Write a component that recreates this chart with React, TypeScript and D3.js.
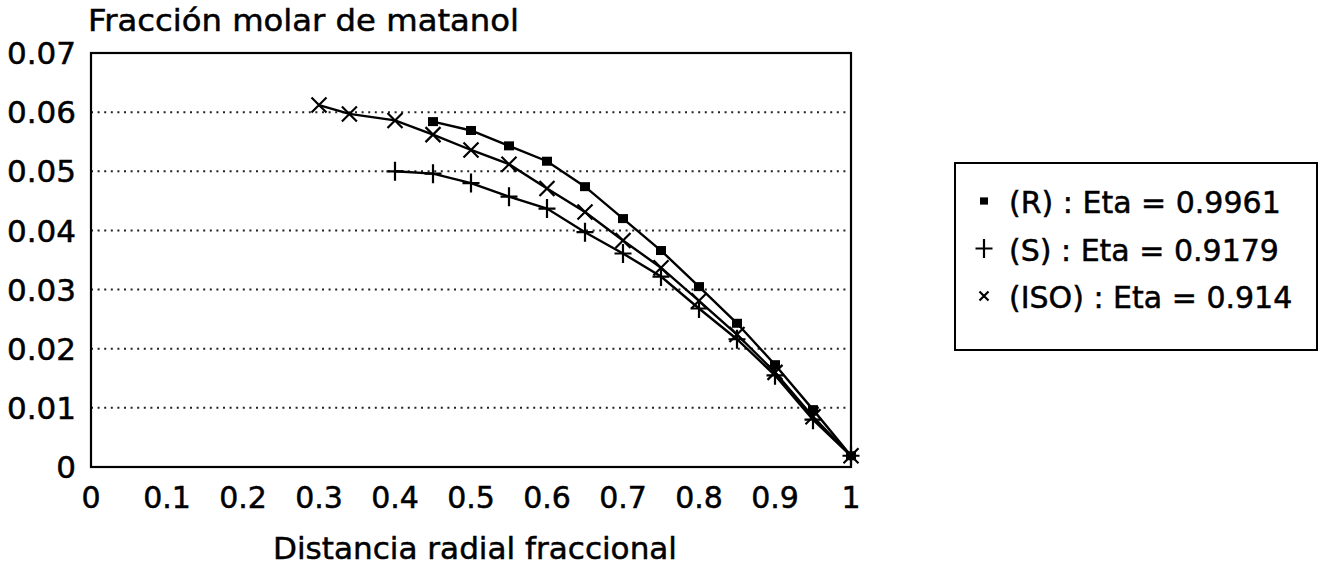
import React from "react";
import * as d3 from "d3";

const xR = [0.45, 0.5, 0.55, 0.6, 0.65, 0.7, 0.75, 0.8, 0.85, 0.9, 0.95, 1.0];
const yR = [0.0584, 0.0569, 0.0543, 0.0517, 0.0474, 0.042, 0.0366, 0.0305, 0.0243, 0.0173, 0.0097, 0.0019];

const xS = [0.4, 0.45, 0.5, 0.55, 0.6, 0.65, 0.7, 0.75, 0.8, 0.85, 0.9, 0.95, 1.0];
const yS = [0.05, 0.0496, 0.048, 0.0457, 0.0437, 0.0397, 0.0361, 0.0322, 0.0268, 0.0216, 0.0155, 0.008, 0.0019];

const xISO = [0.3, 0.34, 0.4, 0.45, 0.5, 0.55, 0.6, 0.65, 0.7, 0.75, 0.8, 0.85, 0.9, 0.95, 1.0];
const yISO = [0.0612, 0.0597, 0.0586, 0.0562, 0.0536, 0.0512, 0.0471, 0.0431, 0.0383, 0.0337, 0.0281, 0.0224, 0.016, 0.0085, 0.0019];

const xTicks = [0, 0.1, 0.2, 0.3, 0.4, 0.5, 0.6, 0.7, 0.8, 0.9, 1];
const xTickLabels = ["0", "0.1", "0.2", "0.3", "0.4", "0.5", "0.6", "0.7", "0.8", "0.9", "1"];
const yTicks = [0, 0.01, 0.02, 0.03, 0.04, 0.05, 0.06, 0.07];
const yTickLabels = ["0", "0.01", "0.02", "0.03", "0.04", "0.05", "0.06", "0.07"];
const gridValues = [0.01, 0.02, 0.03, 0.04, 0.05, 0.06];

const legendLabels = ["(R) : Eta = 0.9961", "(S) : Eta = 0.9179", "(ISO) : Eta = 0.914"];
const titleY = "Fracción molar de matanol";
const titleX = "Distancia radial fraccional";

const W = 1324;
const H = 567;
const FONT = "'DejaVu Sans', sans-serif";

function Marker({ type, x, y, scale = 1 }: { type: string; x: number; y: number; scale?: number }) {
  if (type === "square") {
    const s = 10 * scale;
    return <rect x={x - s / 2} y={y - s * 0.45} width={s} height={s * 0.9} fill="#000" />;
  }
  if (type === "plus") {
    const h = 8.5 * scale;
    return (
      <path d={`M${x - h},${y}H${x + h}M${x},${y - h - 1}V${y + h + 1}`} stroke="#000" strokeWidth={2.2} fill="none" />
    );
  }
  const h = 7.5 * scale;
  return (
    <path d={`M${x - h},${y - h}L${x + h},${y + h}M${x - h},${y + h}L${x + h},${y - h}`} stroke="#000" strokeWidth={2.2} fill="none" />
  );
}

export default function App() {
  const left = 91, right = 851, top = 53, bottom = 467;
  const x = d3.scaleLinear().domain([0, 1]).range([left, right]);
  const y = d3.scaleLinear().domain([0, 0.07]).range([bottom, top]);
  const line = d3.line<[number, number]>().x((d) => x(d[0])).y((d) => y(d[1]));

  const series = [
    { xs: xR, ys: yR, type: "square" },
    { xs: xS, ys: yS, type: "plus" },
    { xs: xISO, ys: yISO, type: "x" },
  ];

  const textStyle = { stroke: "#000", strokeWidth: 0.5 };

  return (
    <svg width={W} height={H} style={{ position: "absolute", left: 0, top: 0, background: "#fff" }} fontFamily={FONT}>
      <rect x={0} y={0} width={W} height={H} fill="#fff" />
      {gridValues.map((v) => (
        <line key={v} x1={left} x2={right} y1={y(v)} y2={y(v)} stroke="#222" strokeWidth={2} strokeDasharray="2,4.6" />
      ))}
      <rect x={left} y={top} width={right - left} height={bottom - top} fill="none" stroke="#000" strokeWidth={2.2} />
      {series.map((s, i) => {
        const pts: [number, number][] = s.xs.map((xv, j) => [xv, s.ys[j]]);
        return (
          <g key={i}>
            <path d={line(pts) || ""} fill="none" stroke="#000" strokeWidth={2.4} />
            {pts.map((p, j) => (
              <Marker key={j} type={s.type} x={x(p[0])} y={y(p[1])} />
            ))}
          </g>
        );
      })}
      {yTicks.map((v, i) => (
        <text key={v} x={76} y={y(v)} dy="0.36em" textAnchor="end" fontSize={31} fill="#000" style={textStyle}>
          {yTickLabels[i]}
        </text>
      ))}
      {xTicks.map((v, i) => (
        <text key={v} x={x(v)} y={508} textAnchor="middle" fontSize={30} fill="#000" style={textStyle}>
          {xTickLabels[i]}
        </text>
      ))}
      <text x={88} y={31} fontSize={31} fill="#000" textLength={431} lengthAdjust="spacingAndGlyphs" style={textStyle}>
        {titleY}
      </text>
      <text x={273} y={559} fontSize={31} fill="#000" textLength={404} lengthAdjust="spacingAndGlyphs" style={textStyle}>
        {titleX}
      </text>
      <rect x={955} y={163} width={362} height={187} fill="#fff" stroke="#000" strokeWidth={2} />
      {legendLabels.map((lab, i) => {
        const ty = 213 + i * 47.5;
        const types = ["square", "plus", "x"];
        return (
          <g key={lab}>
            <Marker type={types[i]} x={984} y={ty - 12} scale={i === 2 ? 0.6 : i === 0 ? 0.8 : 1} />
            <text x={1009} y={ty} fontSize={30} fill="#000" style={textStyle}>
              {lab}
            </text>
          </g>
        );
      })}
    </svg>
  );
}
